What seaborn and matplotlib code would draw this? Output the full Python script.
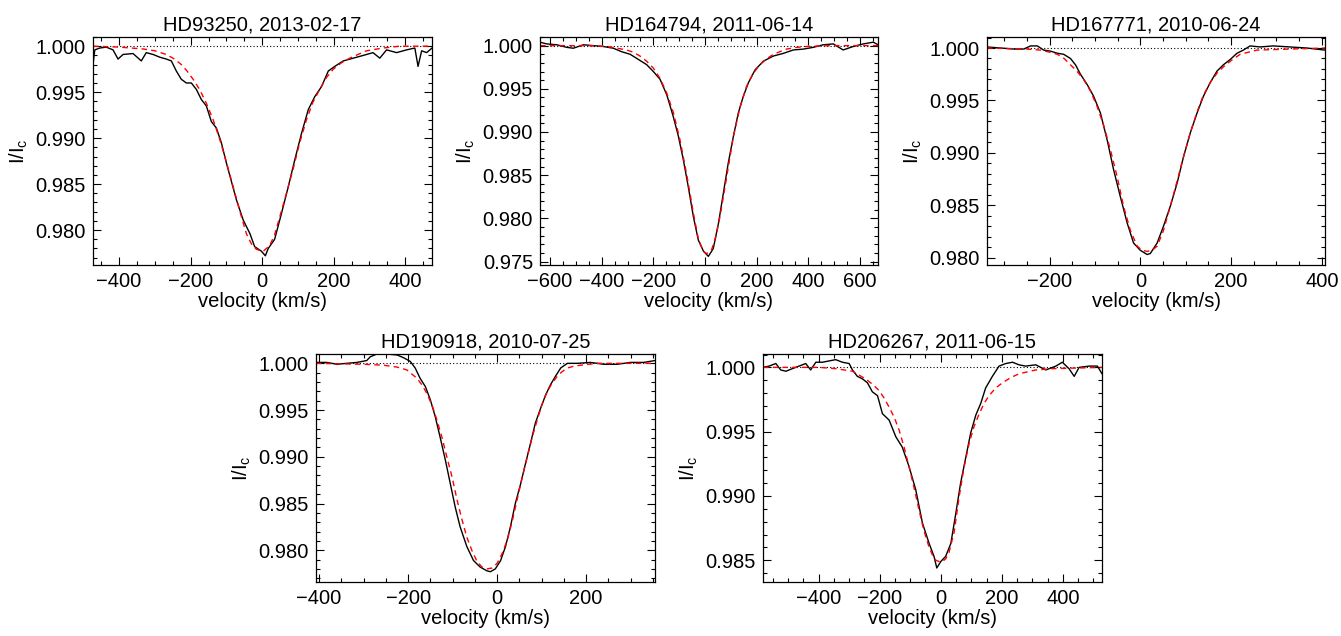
import pandas as pd
import matplotlib.pyplot as plt
from matplotlib.ticker import MultipleLocator, FormatStrFormatter
import seaborn as sns

titles = ["HD93250, 2013-02-17", "HD164794, 2011-06-14", "HD167771, 2010-06-24",
          "HD190918, 2010-07-25", "HD206267, 2011-06-15"]

v_obs_1 = [-473, -468, -454, -436, -417, -403, -389, -361, -338, -324, -305, -286, -268, -254, -240,
           -226, -212, -198, -184, -170, -156, -142, -128, -114, -100, -86, -72, -53, -34, -21, -2, 9,
           17, 35, 54, 73, 91, 110, 129, 147, 166, 185, 203, 227, 255, 283, 310, 329, 348, 376, 404,
           427, 436, 446, 460, 475]
i_obs_1 = [0.9980, 0.9996, 0.9998, 0.9999, 0.9996, 0.9986, 0.9991, 0.9992, 0.9984, 0.9993, 0.9991,
           0.9988, 0.9986, 0.9984, 0.9973, 0.9964, 0.9960, 0.9960, 0.9953, 0.9942, 0.9935, 0.9918,
           0.9911, 0.9895, 0.9873, 0.9853, 0.9833, 0.9811, 0.9796, 0.9782, 0.9777, 0.9772, 0.9780,
           0.9790, 0.9818, 0.9847, 0.9876, 0.9905, 0.9931, 0.9945, 0.9956, 0.9973, 0.9978, 0.9984,
           0.9987, 0.9990, 0.9993, 0.9987, 0.9996, 0.9993, 0.9996, 0.9998, 0.9978, 0.9995, 0.9993,
           0.9998]
v_fit_1 = [-473, -400, -333, -300, -268, -245, -226, -210, -193, -175, -156, -137, -118, -100, -81,
           -62, -44, -30, -16, 3, 21, 35, 49, 68, 87, 105, 124, 142, 161, 180, 199, 222, 245, 268,
           292, 338, 385, 475]
i_fit_1 = [1.0000, 0.9999, 0.9997, 0.9995, 0.9991, 0.9986, 0.9980, 0.9973, 0.9964, 0.9953, 0.9938,
           0.9920, 0.9898, 0.9874, 0.9847, 0.9820, 0.9796, 0.9785, 0.9779, 0.9777, 0.9783, 0.9795,
           0.9814, 0.9840, 0.9867, 0.9895, 0.9920, 0.9939, 0.9953, 0.9966, 0.9975, 0.9982, 0.9987,
           0.9991, 0.9995, 0.9998, 1.0000, 1.0000]

v_obs_2 = [-639, -613, -574, -535, -510, -471, -432, -394, -355, -323, -290, -258, -226, -200, -174,
           -148, -123, -103, -84, -65, -45, -26, -6, 13, 32, 52, 71, 90, 110, 129, 148, 168, 194, 226,
           265, 303, 342, 381, 419, 458, 497, 535, 574, 613, 652, 670]
i_obs_2 = [1.0004, 1.0002, 1.0001, 0.9998, 0.9997, 1.0001, 1.0000, 0.9999, 0.9997, 0.9993, 0.9990,
           0.9984, 0.9978, 0.9970, 0.9961, 0.9943, 0.9918, 0.9895, 0.9868, 0.9837, 0.9802, 0.9775,
           0.9762, 0.9756, 0.9765, 0.9794, 0.9829, 0.9864, 0.9895, 0.9922, 0.9941, 0.9957, 0.9972,
           0.9982, 0.9988, 0.9991, 0.9995, 0.9996, 0.9998, 1.0001, 1.0002, 0.9995, 0.9999, 1.0002,
           1.0004, 1.0001]
v_fit_2 = [-639, -450, -381, -340, -303, -275, -252, -226, -200, -174, -148, -122, -97, -71, -45,
           -25, -6, 6, 26, 42, 58, 84, 110, 136, 161, 187, 213, 240, 265, 290, 316, 355, 394, 480, 670]
i_fit_2 = [1.0000, 1.0000, 0.9999, 0.9997, 0.9995, 0.9992, 0.9988, 0.9982, 0.9974, 0.9962, 0.9945,
           0.9922, 0.9891, 0.9851, 0.9806, 0.9775, 0.9762, 0.9759, 0.9764, 0.9779, 0.9802, 0.9848,
           0.9895, 0.9929, 0.9953, 0.9968, 0.9978, 0.9985, 0.9990, 0.9993, 0.9996, 0.9998, 0.9999,
           1.0000, 1.0000]

v_obs_3 = [-338, -308, -279, -257, -242, -227, -213, -198, -183, -169, -154, -143, -132, -117, -103,
           -88, -73, -59, -44, -29, -15, 0, 15, 22, 37, 51, 66, 81, 95, 110, 125, 139, 154, 169, 183,
           198, 213, 227, 242, 264, 293, 330, 367, 407]
i_obs_3 = [1.0001, 1.0000, 0.9999, 0.9999, 1.0002, 1.0002, 0.9998, 0.9997, 0.9995, 0.9994, 0.9990,
           0.9984, 0.9975, 0.9965, 0.9954, 0.9938, 0.9912, 0.9884, 0.9858, 0.9833, 0.9814, 0.9807,
           0.9803, 0.9804, 0.9814, 0.9830, 0.9849, 0.9871, 0.9896, 0.9919, 0.9938, 0.9954, 0.9967,
           0.9978, 0.9984, 0.9989, 0.9995, 0.9998, 1.0002, 1.0001, 1.0002, 1.0001, 1.0000, 0.9998]
v_fit_3 = [-338, -250, -220, -200, -183, -168, -154, -140, -125, -110, -95, -80, -66, -51, -37, -22,
           -7, 4, 15, 26, 37, 51, 66, 81, 95, 110, 125, 139, 154, 169, 183, 200, 220, 257, 330, 407]
i_fit_3 = [1.0000, 0.9999, 0.9998, 0.9996, 0.9994, 0.9990, 0.9984, 0.9978, 0.9970, 0.9959, 0.9944,
           0.9925, 0.9903, 0.9877, 0.9849, 0.9826, 0.9811, 0.9807, 0.9806, 0.9807, 0.9811, 0.9826,
           0.9849, 0.9873, 0.9896, 0.9919, 0.9939, 0.9955, 0.9967, 0.9976, 0.9982, 0.9988, 0.9994,
           0.9998, 0.9999, 1.0000]

v_obs_4 = [-407, -383, -360, -338, -315, -293, -285, -270, -248, -225, -210, -195, -184, -173, -161,
           -150, -139, -128, -116, -105, -94, -83, -68, -53, -38, -23, -15, -4, 8, 19, 30, 41, 53, 64,
           75, 86, 98, 109, 120, 131, 143, 158, 180, 210, 240, 270, 300, 330, 355]
i_obs_4 = [1.0001, 1.0001, 0.9999, 1.0000, 1.0001, 1.0003, 1.0007, 1.0010, 1.0010, 1.0009, 1.0006,
           1.0002, 0.9995, 0.9984, 0.9975, 0.9961, 0.9943, 0.9921, 0.9896, 0.9871, 0.9846, 0.9825,
           0.9804, 0.9789, 0.9782, 0.9778, 0.9777, 0.9780, 0.9789, 0.9804, 0.9825, 0.9850, 0.9871,
           0.9893, 0.9914, 0.9936, 0.9952, 0.9966, 0.9977, 0.9986, 0.9995, 1.0000, 1.0000, 1.0001,
           0.9999, 0.9999, 1.0001, 1.0001, 1.0003]
v_fit_4 = [-407, -300, -255, -225, -203, -180, -169, -158, -146, -135, -124, -113, -101, -90, -79,
           -68, -56, -45, -34, -23, -11, 0, 11, 23, 34, 45, 56, 68, 79, 90, 101, 113, 124, 135, 146,
           158, 173, 188, 225, 355]
i_fit_4 = [1.0000, 0.9999, 0.9998, 0.9996, 0.9993, 0.9984, 0.9977, 0.9968, 0.9955, 0.9939, 0.9921,
           0.9900, 0.9878, 0.9854, 0.9833, 0.9814, 0.9799, 0.9788, 0.9782, 0.9780, 0.9781, 0.9786,
           0.9796, 0.9811, 0.9831, 0.9854, 0.9877, 0.9900, 0.9921, 0.9939, 0.9956, 0.9970, 0.9979,
           0.9986, 0.9991, 0.9995, 0.9997, 0.9998, 1.0000, 1.0000]

v_obs_5 = [-582, -562, -540, -524, -507, -486, -464, -442, -426, -409, -387, -366, -344, -322, -300,
           -289, -273, -256, -240, -224, -207, -191, -169, -147, -126, -104, -82, -60, -38, -22, -13,
           0, 16, 33, 49, 65, 82, 98, 115, 131, 147, 169, 191, 213, 235, 256, 278, 311, 344, 377, 398,
           420, 437, 453, 486, 513, 528]
i_obs_5 = [1.0000, 1.0001, 1.0003, 0.9998, 0.9997, 0.9999, 1.0001, 1.0003, 0.9998, 1.0004, 1.0004,
           1.0005, 1.0006, 1.0004, 1.0003, 0.9998, 0.9993, 0.9991, 0.9988, 0.9981, 0.9978, 0.9964,
           0.9959, 0.9946, 0.9938, 0.9923, 0.9905, 0.9879, 0.9863, 0.9853, 0.9844, 0.9849, 0.9853,
           0.9863, 0.9886, 0.9910, 0.9930, 0.9949, 0.9963, 0.9972, 0.9984, 0.9993, 1.0001, 1.0003,
           1.0004, 1.0002, 1.0001, 1.0002, 0.9998, 1.0001, 1.0004, 0.9999, 0.9993, 1.0000, 1.0001,
           1.0001, 0.9995]
v_fit_5 = [-582, -398, -344, -289, -246, -224, -202, -185, -169, -152, -136, -120, -104, -87, -71,
           -55, -38, -27, -16, -5, 5, 16, 27, 44, 60, 76, 93, 109, 126, 142, 158, 180, 202, 229, 256,
           311, 366, 528]
i_fit_5 = [1.0000, 1.0000, 0.9999, 0.9997, 0.9991, 0.9987, 0.9982, 0.9976, 0.9969, 0.9961, 0.9951,
           0.9938, 0.9923, 0.9906, 0.9889, 0.9873, 0.9860, 0.9854, 0.9850, 0.9849, 0.9849, 0.9851,
           0.9856, 0.9872, 0.9899, 0.9922, 0.9941, 0.9954, 0.9964, 0.9972, 0.9978, 0.9984, 0.9988,
           0.9992, 0.9995, 0.9998, 0.9999, 1.0000]

observed = [(v_obs_1, i_obs_1), (v_obs_2, i_obs_2), (v_obs_3, i_obs_3), (v_obs_4, i_obs_4), (v_obs_5, i_obs_5)]
fits = [(v_fit_1, i_fit_1), (v_fit_2, i_fit_2), (v_fit_3, i_fit_3), (v_fit_4, i_fit_4), (v_fit_5, i_fit_5)]

# axis ranges per panel
x_limits = [(-473, 475), (-639, 670), (-338, 407), (-407, 355), (-582, 528)]
y_limits = [(0.9762, 1.0010), (0.9746, 1.0010), (0.9793, 1.00105), (0.9766, 1.0010), (0.98331, 1.00104)]

# panel boxes in pixels: left, right, top, bottom
boxes = [(93, 432, 37, 265), (540, 878, 37, 265), (987, 1325, 37, 265),
         (316, 655, 354, 582), (763, 1102, 354, 582)]

sns.set_style("ticks")
plt.rcParams['font.family'] = ['Liberation Sans', 'DejaVu Sans']
plt.rcParams['mathtext.fontset'] = 'custom'
plt.rcParams['mathtext.rm'] = 'Liberation Sans'
plt.rcParams['mathtext.it'] = 'Liberation Sans'
plt.rcParams['text.color'] = 'black'
plt.rcParams['axes.labelcolor'] = 'black'
plt.rcParams['xtick.color'] = 'black'
plt.rcParams['ytick.color'] = 'black'

W, H = 1341, 636
fig = plt.figure(figsize=(W / 100, H / 100), dpi=100)

for k in range(5):
    l, r, t, b = boxes[k]
    ax = fig.add_axes([l / W, 1 - b / H, (r - l) / W, (b - t) / H])

    ax.axhline(1.0, color="black", linestyle=(0, (1, 2)), linewidth=0.8)
    df_obs = pd.DataFrame({"v": observed[k][0], "I": observed[k][1]})
    df_fit = pd.DataFrame({"v": fits[k][0], "I": fits[k][1]})
    sns.lineplot(data=df_obs, x="v", y="I", ax=ax, color="black", linewidth=1.0,
                 estimator=None, sort=False)
    sns.lineplot(data=df_fit, x="v", y="I", ax=ax, color="red", linewidth=1.0,
                 linestyle=(0, (4, 3)), estimator=None, sort=False)

    ax.set_xlim(x_limits[k])
    ax.set_ylim(y_limits[k])
    ax.xaxis.set_major_locator(MultipleLocator(200))
    ax.xaxis.set_minor_locator(MultipleLocator(50))
    ax.yaxis.set_major_locator(MultipleLocator(0.005))
    ax.yaxis.set_minor_locator(MultipleLocator(0.001))
    ax.yaxis.set_major_formatter(FormatStrFormatter("%.3f"))
    ax.tick_params(which="both", direction="in", top=True, right=True, labelsize=14.5,
                   width=0.8, colors="black", pad=5)
    ax.tick_params(which="major", length=6)
    ax.tick_params(which="minor", length=3)
    for s in ax.spines.values():
        s.set_linewidth(0.9)
        s.set_color("black")

    ax.set_title(titles[k], fontsize=14.5, pad=5, color="black")
    ax.set_xlabel("velocity (km/s)", fontsize=14.5, labelpad=1, color="black")
    ax.set_ylabel(r"I/I$_\mathrm{c}$", fontsize=14.5, labelpad=4, color="black")

fig.savefig("out.png", dpi=100)
